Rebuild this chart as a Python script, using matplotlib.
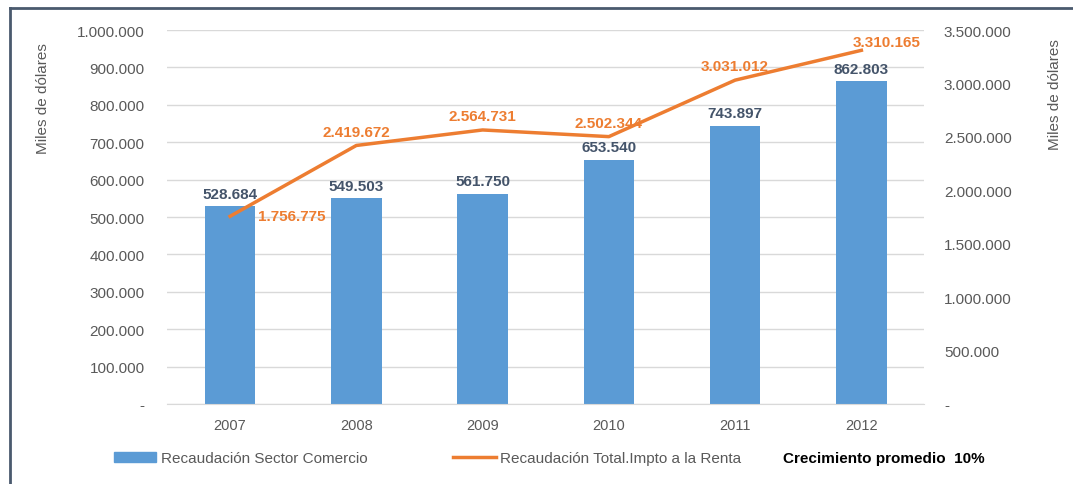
import matplotlib
matplotlib.use("Agg")
import matplotlib.pyplot as plt
from matplotlib.lines import Line2D
from matplotlib.patches import Patch
from matplotlib.ticker import FuncFormatter

years = ["2007", "2008", "2009", "2010", "2011", "2012"]
sector_comercio = [528684, 549503, 561750, 653540, 743897, 862803]
total_renta = [1756775, 2419672, 2564731, 2502344, 3031012, 3310165]

BAR_COLOR = "#5B9BD5"
LINE_COLOR = "#ED7D31"
LABEL_DARK = "#44546A"
TICK_GREY = "#595959"


def miles(v, pos=None):
    if v == 0:
        return "-"
    return f"{int(round(v)):,}".replace(",", ".")


plt.rcParams["font.family"] = ["Liberation Sans", "DejaVu Sans"]

fig = plt.figure(figsize=(10.73, 4.85), dpi=100)
ax = fig.add_axes([0.1556, 0.165, 0.706, 0.771])
ax2 = ax.twinx()

x = list(range(len(years)))
ax.bar(x, sector_comercio, width=0.4, color=BAR_COLOR, zorder=2)
ax2.plot(x, total_renta, color=LINE_COLOR, linewidth=2.5, zorder=3)

ax.set_xlim(-0.5, len(years) - 0.5)
ax.set_ylim(0, 1_000_000)
ax2.set_ylim(0, 3_500_000)
ax.set_yticks(range(0, 1_000_001, 100_000))
ax2.set_yticks(range(0, 3_500_001, 500_000))
ax.yaxis.set_major_formatter(FuncFormatter(miles))
ax2.yaxis.set_major_formatter(FuncFormatter(miles))
ax.set_xticks(x)
ax.set_xticklabels(years)

ax.grid(axis="y", color="#D9D9D9", linewidth=1, zorder=0)
ax.set_axisbelow(True)
for a in (ax, ax2):
    for s in a.spines.values():
        s.set_visible(False)
    a.tick_params(length=0, labelsize=11, labelcolor=TICK_GREY)
ax.spines["bottom"].set_visible(True)
ax.spines["bottom"].set_color("#D9D9D9")
ax.tick_params(axis="y", pad=16)
ax2.tick_params(axis="y", pad=14)
ax.tick_params(axis="x", pad=10, labelsize=10.5)

ax.set_ylabel("Miles de dólares", fontsize=11, color=TICK_GREY)
ax.yaxis.set_label_coords(-0.155, 0.82)
ax2.set_ylabel("Miles de dólares", fontsize=11, color=TICK_GREY, rotation=90)
ax2.yaxis.set_label_coords(1.163, 0.83)

# data labels
for i, v in enumerate(sector_comercio):
    ax.annotate(miles(v), (i, v), xytext=(0, 4), textcoords="offset points",
                ha="center", va="bottom", fontsize=11, fontweight="bold",
                color=LABEL_DARK, zorder=4)
for i, v in enumerate(total_renta):
    if i == 0:
        off, ha, va = (20, 0), "left", "center"
    elif i == len(total_renta) - 1:
        off, ha, va = (18, 1), "center", "bottom"
    else:
        off, ha, va = (0, 5), "center", "bottom"
    ax2.annotate(miles(v), (i, v), xytext=off, textcoords="offset points",
                 ha=ha, va=va, fontsize=11, fontweight="bold",
                 color=LINE_COLOR, zorder=5)

# legend
handles = [Patch(color=BAR_COLOR, label="Recaudación Sector Comercio"),
           Line2D([0], [0], color=LINE_COLOR, linewidth=2.5,
                  label="Recaudación Total.Impto a la Renta")]
leg = fig.legend(handles=handles, loc="center left", bbox_to_anchor=(0.093, 0.053),
                 ncol=2, frameon=False, fontsize=11, handlelength=2.8,
                 handleheight=0.6, columnspacing=5.6, handletextpad=0.3)
for t in leg.get_texts():
    t.set_color(TICK_GREY)
fig.text(0.730, 0.053, "Crecimiento promedio  10%", fontsize=11,
         fontweight="bold", color="black", va="center")

# outer frame
frame_col = "#4A5A6E"
fig.add_artist(Line2D([0.0093, 1.0], [0.981, 0.981], color=frame_col,
                      linewidth=2, transform=fig.transFigure))
fig.add_artist(Line2D([0.0093, 0.0093], [0.0, 0.981], color=frame_col,
                      linewidth=2, transform=fig.transFigure))

fig.savefig("out.png", dpi=100)
